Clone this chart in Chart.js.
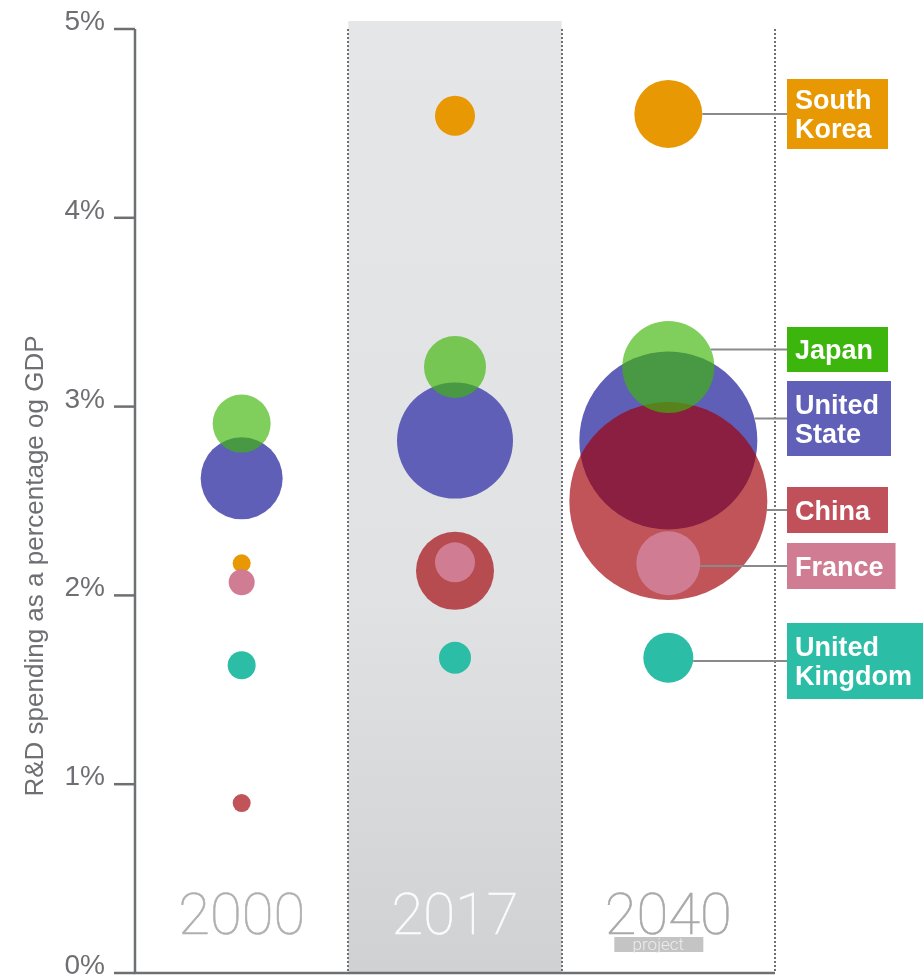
<!DOCTYPE html>
<html>
<head>
<meta charset="utf-8">
<title>R&amp;D spending as a percentage of GDP</title>
<script src="https://cdn.jsdelivr.net/npm/chart.js@4.4.1/dist/chart.umd.min.js"></script>
<style>
  html, body { margin: 0; padding: 0; background: #fff; }
  #wrap { position: relative; width: 923px; height: 975px; }
</style>
</head>
<body>
<div id="wrap"><canvas id="rdChart"></canvas></div>
<script>
// columns
var years = ['2000', '2017', '2040'];
var yTicks = [0, 1, 2, 3, 4, 5];

// R&D spending, % of GDP
var southKorea = [2.17, 4.54, 4.55];
var japan = [2.91, 3.21, 3.21];
var unitedState = [2.62, 2.82, 2.82];
var china = [0.90, 2.13, 2.50];
var france = [2.07, 2.175, 2.17];
var unitedKingdom = [1.63, 1.67, 1.67];

// bubble radius for each year
var southKoreaSize = [9, 20, 34];
var japanSize = [29, 31, 46];
var unitedStateSize = [41, 58, 89];
var chinaSize = [9, 39, 99];
var franceSize = [13, 20, 32];
var unitedKingdomSize = [14, 16, 25];

var GRAY = '#6e6f72';
var SANS = '"Liberation Sans", Arial, Helvetica, sans-serif';
var THIN = 'Roboto, "Open Sans", sans-serif';

function points(values, sizes) {
  return values.map(function (v, i) {
    return { x: i + 0.5, y: v, r: sizes[i] };
  });
}

// drawn top-most first
var series = [
  { name: ['France'], data: points(france, franceSize), fill: '#d07d93', box: '#d07d93', top: 543, h: 46 },
  { name: ['United', 'Kingdom'], data: points(unitedKingdom, unitedKingdomSize), fill: '#2bbda5', box: '#2bbda5', top: 623, h: 76 },
  { name: ['South', 'Korea'], data: points(southKorea, southKoreaSize), fill: '#e89802', box: '#e89802', top: 79, h: 70 },
  { name: ['Japan'], data: points(japan, japanSize), fill: 'rgba(62,182,8,0.66)', box: '#3cb60c', top: 327, h: 45 },
  { name: ['China'], data: points(china, chinaSize), fill: 'rgba(161,0,8,0.67)', box: '#c0515a', top: 487, h: 46 },
  { name: ['United', 'State'], data: points(unitedState, unitedStateSize), fill: '#5f5fb7', box: '#6060b8', top: 381, h: 75 }
];

var backdrop = {
  id: 'backdrop',
  beforeDatasetsDraw: function (chart) {
    var ctx = chart.ctx;
    var x = chart.scales.x, y = chart.scales.y;
    var top = y.getPixelForValue(5), bottom = y.getPixelForValue(0);
    var left = x.getPixelForValue(0), right = x.getPixelForValue(3);
    ctx.save();

    // shaded 2017 column
    var bx0 = x.getPixelForValue(1), bx1 = x.getPixelForValue(2);
    var grad = ctx.createLinearGradient(0, top - 8, 0, bottom);
    grad.addColorStop(0, '#e5e6e7');
    grad.addColorStop(0.6, '#e1e2e3');
    grad.addColorStop(1, '#d0d1d3');
    ctx.fillStyle = grad;
    ctx.fillRect(bx0, top - 8, bx1 - bx0, bottom - top + 8);

    // dotted column separators
    ctx.strokeStyle = '#707072';
    ctx.lineWidth = 2;
    ctx.setLineDash([2, 2]);
    [1, 2, 3].forEach(function (v) {
      var px = Math.round(x.getPixelForValue(v));
      ctx.beginPath();
      ctx.moveTo(px, top);
      ctx.lineTo(px, bottom);
      ctx.stroke();
    });
    ctx.setLineDash([]);

    // axes
    ctx.strokeStyle = GRAY;
    ctx.lineWidth = 2.5;
    ctx.beginPath();
    ctx.moveTo(left, top);
    ctx.lineTo(left, bottom);
    ctx.lineTo(right, bottom);
    ctx.stroke();

    // y ticks with labels sitting on the tick
    ctx.fillStyle = GRAY;
    ctx.font = '28px ' + SANS;
    ctx.textAlign = 'right';
    ctx.textBaseline = 'alphabetic';
    yTicks.forEach(function (t) {
      var py = y.getPixelForValue(t);
      ctx.beginPath();
      ctx.moveTo(left - 21, py);
      ctx.lineTo(left, py);
      ctx.stroke();
      ctx.fillText(t + '%', left - 30, py + 1);
    });

    // axis title
    ctx.save();
    ctx.translate(43, 566);
    ctx.rotate(-Math.PI / 2);
    ctx.textAlign = 'center';
    ctx.font = '26px ' + SANS;
    ctx.fillText('R&D spending as a percentage og GDP', 0, 0);
    ctx.restore();

    // year captions
    var yearColors = ['#b0b0b0', '#fcfcfc', '#a9a9a9'];
    ctx.textAlign = 'center';
    ctx.font = '100 58px ' + THIN;
    years.forEach(function (yr, i) {
      ctx.fillStyle = yearColors[i];
      ctx.strokeStyle = yearColors[i];
      ctx.lineWidth = 0.6;
      ctx.fillText(yr, x.getPixelForValue(i + 0.5), 934);
      ctx.strokeText(yr, x.getPixelForValue(i + 0.5), 934);
    });

    // "project" tag under 2040
    var cx = x.getPixelForValue(2.5) - 10;
    ctx.fillStyle = '#c4c4c4';
    ctx.fillRect(cx - 44, 937, 89, 15);
    ctx.fillStyle = '#ececec';
    ctx.font = '300 17px ' + THIN;
    ctx.fillText('project', cx, 950);

    ctx.restore();
  }
};

var countryLabels = {
  id: 'countryLabels',
  afterDatasetsDraw: function (chart) {
    var ctx = chart.ctx;
    var boxLeft = 787;
    ctx.save();
    ctx.font = 'bold 27px ' + SANS;
    ctx.textAlign = 'left';
    ctx.textBaseline = 'alphabetic';
    series.forEach(function (s, i) {
      var el = chart.getDatasetMeta(i).data[2];
      var r = el.options.radius;
      var midY = s.top + s.h / 2;
      var dy = midY - el.y;
      var startX = Math.abs(dy) < r ? el.x + Math.sqrt(r * r - dy * dy) : el.x;

      ctx.strokeStyle = '#8a8a8c';
      ctx.lineWidth = 2;
      ctx.beginPath();
      ctx.moveTo(startX, midY);
      ctx.lineTo(boxLeft, midY);
      ctx.stroke();

      var textW = Math.max.apply(null, s.name.map(function (t) { return ctx.measureText(t).width; }));
      var w = Math.max(101, textW + 20);
      ctx.fillStyle = s.box;
      ctx.fillRect(boxLeft, s.top, w, s.h);

      ctx.fillStyle = '#ffffff';
      var lineH = 29;
      var firstY = midY - (s.name.length - 1) * lineH / 2 + 9.7;
      s.name.forEach(function (t, k) {
        ctx.fillText(t, boxLeft + 8, firstY + k * lineH);
      });
    });
    ctx.restore();
  }
};

new Chart(document.getElementById('rdChart'), {
  type: 'bubble',
  data: {
    datasets: series.map(function (s) {
      return {
        label: s.name.join(' '),
        data: s.data,
        backgroundColor: s.fill,
        borderWidth: 0,
        hoverBorderWidth: 0,
        clip: false
      };
    })
  },
  options: {
    responsive: true,
    maintainAspectRatio: false,
    animation: false,
    events: [],
    layout: { autoPadding: false, padding: { left: 135, right: 148, top: 29, bottom: 2 } },
    scales: {
      x: { type: 'linear', min: 0, max: 3, display: false },
      y: { type: 'linear', min: 0, max: 5, display: false }
    },
    plugins: {
      legend: { display: false },
      tooltip: { enabled: false }
    }
  },
  plugins: [backdrop, countryLabels]
});
</script>
</body>
</html>
